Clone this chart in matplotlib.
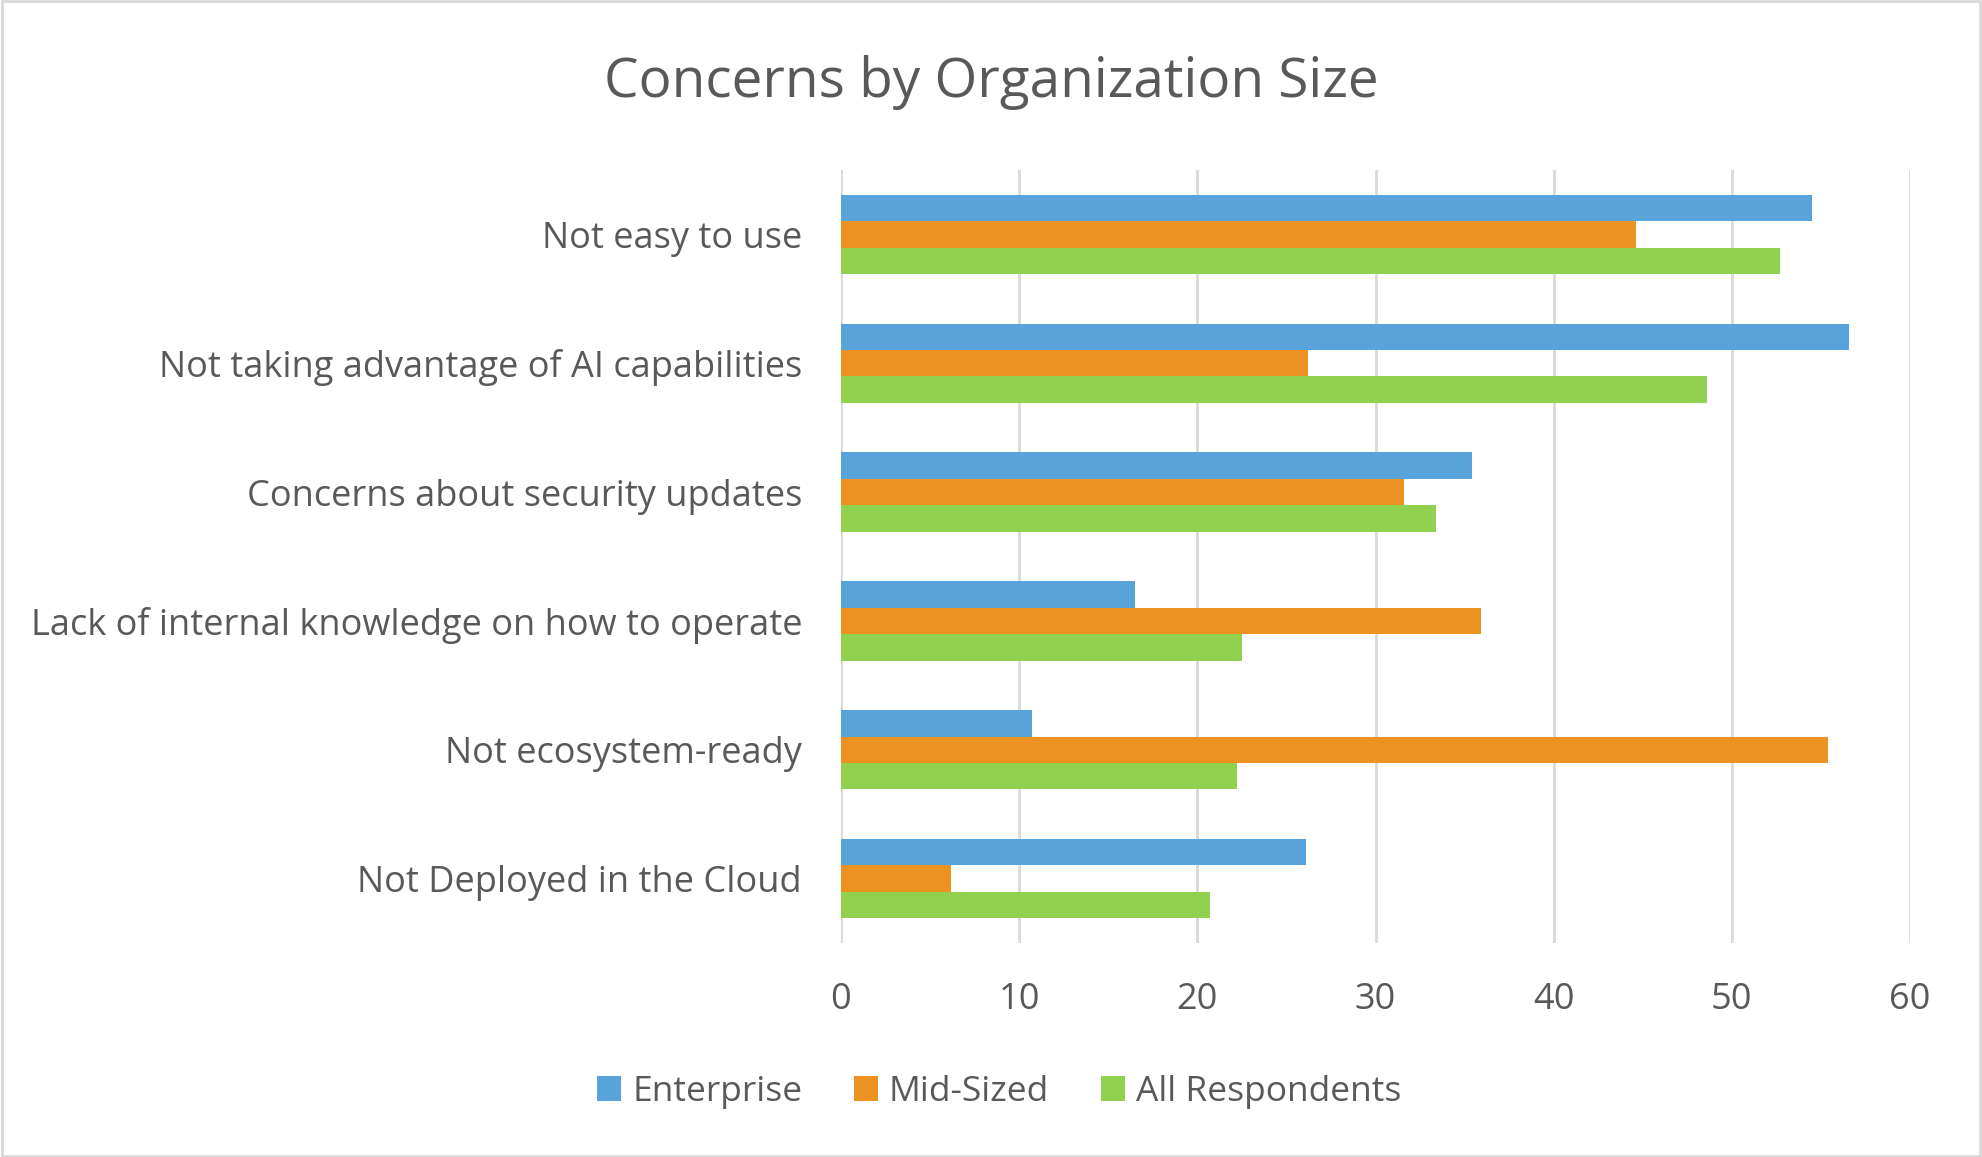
import matplotlib
matplotlib.use("Agg")
import matplotlib.pyplot as plt
from matplotlib.patches import Patch, Rectangle
import numpy as np

categories = ["Not easy to use", "Not taking advantage of AI capabilities",
              "Concerns about security updates", "Lack of internal knowledge on how to operate",
              "Not ecosystem-ready", "Not Deployed in the Cloud"]
enterprise = [54.5, 56.6, 35.4, 16.5, 10.7, 26.1]
mid_sized = [44.6, 26.2, 31.6, 35.9, 55.4, 6.2]
all_resp = [52.7, 48.6, 33.4, 22.5, 22.2, 20.7]
series_names = ["Enterprise", "Mid-Sized", "All Respondents"]
colors = ["#58A3D9", "#EC9222", "#92D050"]
xticks = [0, 10, 20, 30, 40, 50, 60]

plt.rcParams['font.family'] = ['Open Sans', 'DejaVu Sans']
text_color = "#595959"

fig = plt.figure(figsize=(19.82, 11.57), dpi=100)
ax = fig.add_axes([841/1982, 1-943/1157, (1910-841)/1982, (943-170)/1157])

n = len(categories)
y = np.arange(n)[::-1].astype(float)
h = 0.205
for i, (vals, c, name) in enumerate(zip([enterprise, mid_sized, all_resp], colors, series_names)):
    ax.barh(y + (1 - i) * h, vals, height=h, color=c, label=name, zorder=3)

ax.set_xlim(0, 60)
ax.set_ylim(-0.5, n - 0.5)
ax.set_xticks(xticks)
ax.set_xticklabels([str(t) for t in xticks])
ax.set_yticks(y)
ax.set_yticklabels(categories)
ax.tick_params(axis='both', length=0, labelsize=26, colors=text_color)
ax.tick_params(axis='y', pad=28)
ax.tick_params(axis='x', pad=28)
ax.grid(axis='x', color="#D9D9D9", linewidth=2, zorder=0)
for s in ax.spines.values():
    s.set_visible(False)

fig.text(0.5, 1 - 83/1157, "Concerns by Organization Size", ha='center', va='center',
         fontsize=39.5, color=text_color)

handles = [Patch(facecolor=c, edgecolor='none') for c in colors]
fig.legend(handles, series_names, loc='center', bbox_to_anchor=(999/1982, 1 - 1092/1157),
           ncol=3, frameon=False, fontsize=25.5, labelcolor=text_color,
           handlelength=0.7, handleheight=0.7, handletextpad=0.3, columnspacing=1.45)

fig.patches.append(Rectangle((0.001, 0.001), 0.998, 0.998, transform=fig.transFigure,
                             fill=False, edgecolor="#D9D9D9", linewidth=2))

fig.savefig("out.png", dpi=100, facecolor="white")
